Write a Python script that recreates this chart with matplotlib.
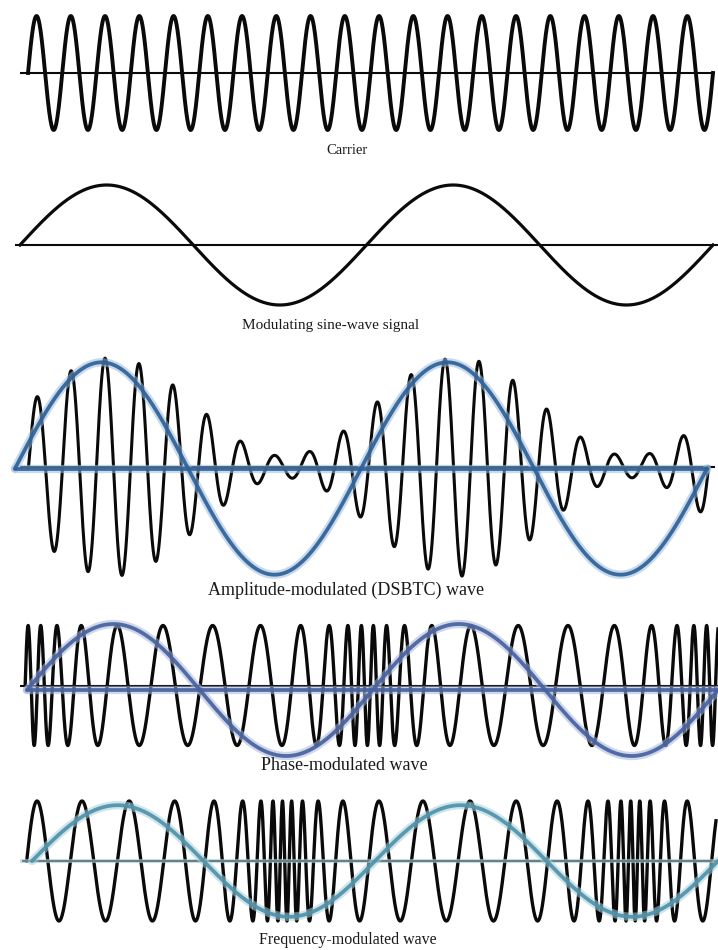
import numpy as np
import matplotlib
matplotlib.use("Agg")
import matplotlib.pyplot as plt

W, H = 718, 950          # canvas size (px) at dpi 100
UNIT = 60.0              # px per amplitude unit

# ---------------- values ----------------
labels = ["Carrier", "Modulating sine-wave signal",
          "Amplitude-modulated (DSBTC) wave", "Phase-modulated wave",
          "Frequency-modulated wave"]
label_x = [347, 331, 346, 344, 348]
label_y = [150, 326, 590, 766, 940]
label_size = [10.5, 11, 13, 13, 11.5]

# time axis spans (start, end) of each zero line
axis_spans = [(20, 715), (15, 718), (20, 715), (20, 718), (22, 718)]

# carrier
carrier_start, carrier_end, carrier_cycles, carrier_amp = 28.0, 713.0, 20, 0.95
# modulating sine
mod_start, mod_cycles, mod_end, mod_amp = 20.0, 2, 713.0, 1.0
# amplitude modulation
am_start, am_end, am_cycles = 28.5, 708.5, 20
am_carrier_amp, am_index, am_env_peak, am_env_period = 1.0, 0.82, 112.0, 346.0
am_ref_start, am_ref_end, am_ref_amp, am_ref_offset = 15.0, 707.0, 1.77, -0.025
# phase modulation
pm_start, pm_end, pm_amp = 24.0, 718.0, 1.0
pm_dense_center, pm_period = 26.0, 342.0
pm_f_base, pm_f_dev, pm_sharp = 0.0143, 0.0200, 0.556
pm_ref_peak = 163.0
pm_mod_start, pm_mod_period, pm_mod_amp, pm_mod_offset = 27.0, 345.5, 1.1, -0.075
# frequency modulation
fm_start, fm_end, fm_amp = 26.0, 716.0, 1.0
fm_dense_center, fm_period = 284.0, 350.0
fm_f_base, fm_f_dev, fm_sharp = 0.0163, 0.0214, 0.633
fm_ref_peak = 470.0
fm_mod_start, fm_mod_period, fm_mod_amp = 32.0, 343.0, 0.93

# panel bands (top, bottom, baseline) in px
panels = [(0, 145, 73), (165, 320, 245), (345, 590, 467), (605, 765, 685.5), (785, 935, 861)]

BLACK = "#0a0a0a"
AM_BLUE, AM_HALO = "#2f6199", "#9cbddb"
PM_BLUE, PM_HALO = "#4762a0", "#a8b6da"
FM_BLUE, FM_HALO = "#4f93ab", "#a9d0dc"

fig = plt.figure(figsize=(W / 100, H / 100), dpi=100)
fig.patch.set_facecolor("white")


def add_panel(top, bottom, baseline):
    ax = fig.add_axes([0, 1 - bottom / H, 1, (bottom - top) / H])
    ax.set_xlim(0, W)
    ax.set_ylim(-(bottom - baseline) / UNIT, (baseline - top) / UNIT)
    ax.axis("off")
    ax.patch.set_alpha(0)
    return ax


def zero_line(ax, span, color=BLACK, lw=1.5, offset=0.0, z=1):
    ax.plot(list(span), [offset, offset], color=color, lw=lw, zorder=z,
            solid_capstyle="butt")


def blue_line(ax, x, y, core, halo, z=4):
    ax.plot(x, y, color=halo, lw=6.0, alpha=0.55, zorder=z, solid_capstyle="round")
    ax.plot(x, y, color=core, lw=2.7, alpha=0.92, zorder=z + 0.1, solid_capstyle="round")


def swept_wave(x_lo, x_hi, center, period, fb, fd, r, ref_peak, n=30000):
    """Swept-frequency carrier; begins at the first upward zero crossing >= x_lo."""
    x = np.linspace(min(x_lo, ref_peak) - 60, x_hi, n)
    theta = 2 * np.pi * (x - center) / period
    kernel = (1 - r ** 2) / (1 - 2 * r * np.cos(theta) + r ** 2)
    f = fb + fd * kernel
    ph = 2 * np.pi * np.concatenate([[0.0], np.cumsum((f[1:] + f[:-1]) / 2 * np.diff(x))])
    ph = ph - np.interp(ref_peak, x, ph) + np.pi / 2
    k0 = np.ceil(np.interp(x_lo, x, ph) / (2 * np.pi))
    x0 = np.interp(2 * np.pi * k0, ph, x)
    keep = x >= x0
    xs = np.concatenate([[x0], x[keep]])
    ps = np.concatenate([[2 * np.pi * k0], ph[keep]])
    return xs, np.sin(ps)


axes = [add_panel(*p) for p in panels]

# 1. carrier
ax = axes[0]
zero_line(ax, axis_spans[0])
x = np.linspace(carrier_start, carrier_end, 6000)
ax.plot(x, carrier_amp * np.sin(2 * np.pi * carrier_cycles * (x - carrier_start) / (carrier_end - carrier_start)),
        color=BLACK, lw=2.8, zorder=3)

# 2. modulating signal
ax = axes[1]
zero_line(ax, axis_spans[1])
x = np.linspace(mod_start, mod_end, 3000)
ax.plot(x, mod_amp * np.sin(2 * np.pi * mod_cycles * (x - mod_start) / (mod_end - mod_start)),
        color=BLACK, lw=2.3, zorder=3)

# 3. AM
ax = axes[2]
zero_line(ax, axis_spans[2])
x = np.linspace(am_start, am_end, 8000)
env = am_carrier_amp * (1 + am_index * np.cos(2 * np.pi * (x - am_env_peak) / am_env_period))
ax.plot(x, env * np.sin(2 * np.pi * am_cycles * (x - am_start) / (am_end - am_start)),
        color=BLACK, lw=2.2, zorder=3)
xr = np.linspace(am_ref_start, am_ref_end, 3000)
blue_line(ax, [am_ref_start, am_ref_end], [am_ref_offset, am_ref_offset], AM_BLUE, AM_HALO)
blue_line(ax, xr, am_ref_offset + am_ref_amp * np.sin(2 * np.pi * 2 * (xr - am_ref_start) / (am_ref_end - am_ref_start)),
          AM_BLUE, AM_HALO)

# 4. PM
ax = axes[3]
zero_line(ax, axis_spans[3])
x, y = swept_wave(pm_start, pm_end, pm_dense_center, pm_period, pm_f_base, pm_f_dev, pm_sharp, pm_ref_peak)
ax.plot(x, pm_amp * y, color=BLACK, lw=2.4, zorder=3)
xr = np.linspace(pm_mod_start, W, 3000)
blue_line(ax, [pm_mod_start, W], [pm_mod_offset, pm_mod_offset], PM_BLUE, PM_HALO)
blue_line(ax, xr, pm_mod_offset + pm_mod_amp * np.sin(2 * np.pi * (xr - pm_mod_start) / pm_mod_period),
          PM_BLUE, PM_HALO)

# 5. FM
ax = axes[4]
zero_line(ax, axis_spans[4])
x, y = swept_wave(fm_start, fm_end, fm_dense_center, fm_period, fm_f_base, fm_f_dev, fm_sharp, fm_ref_peak)
ax.plot(x, fm_amp * y, color=BLACK, lw=2.4, zorder=3)
xr = np.linspace(fm_mod_start, W, 3000)
ax.plot(list(axis_spans[4]), [0, 0], color=FM_HALO, lw=3.0, alpha=0.6, zorder=4)
blue_line(ax, xr, fm_mod_amp * np.sin(2 * np.pi * (xr - fm_mod_start) / fm_mod_period),
          FM_BLUE, FM_HALO)

# labels
for txt, lx, ly, fs in zip(labels, label_x, label_y, label_size):
    fig.text(lx / W, 1 - ly / H, txt, ha="center", va="center",
             fontsize=fs, family="Liberation Serif", color="#1a1a1a")

fig.savefig("out.png", dpi=100, facecolor="white")
